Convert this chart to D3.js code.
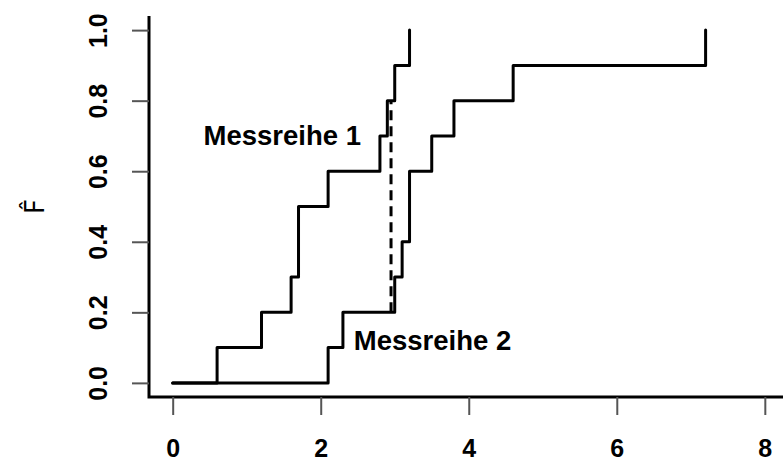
<!DOCTYPE html>
<meta charset="utf-8">
<script src="https://d3js.org/d3.v7.min.js"></script>
<style>
  body { margin: 0; background: #fff; }
  text { font-family: "Liberation Sans", Arial, Helvetica, sans-serif; }
</style>
<div id="chart"></div>
<script>

var messreihe1 = [0.6, 1.2, 1.6, 1.7, 1.7, 2.1, 2.8, 2.9, 3.0, 3.2]
var messreihe2 = [2.1, 2.3, 3.0, 3.1, 3.2, 3.2, 3.5, 3.8, 4.6, 7.2]
var seriesNames = ["Messreihe 1", "Messreihe 2"]
var xTicks = [0, 2, 4, 6, 8]
var yTicks = [0, 0.2, 0.4, 0.6, 0.8, 1.0]
// largest gap between the two ECDFs (Kolmogorov-Smirnov distance)
var ksX = [2.95]
var ksY = [0.2, 0.8]
// label anchors in data units
var labelX = [1.48, 3.51]
var labelY = [0.70, 0.12]

var width = 783, height = 463

var svg = d3.select("#chart").append("svg")
  .attr("width", width)
  .attr("height", height)

// R style: 4% padding around xlim = c(0, 8), ylim = c(0, 1)
var x = d3.scaleLinear().domain([-0.32, 8.32]).range([149, 788.5])
var y = d3.scaleLinear().domain([-0.04, 1.04]).range([397, 16])

// ecdf -> list of step points starting at (0, 0)
function ecdfPoints(values) {
  var v = values.slice().sort(d3.ascending)
  var pts = [[0, 0]]
  v.forEach(function(d, i) { pts.push([d, (i + 1) / v.length]) })
  return pts
}

var step = d3.line()
  .x(function(d) { return x(d[0]) })
  .y(function(d) { return y(d[1]) })
  .curve(d3.curveStepAfter)

svg.selectAll("path.ecdf")
  .data([messreihe1, messreihe2])
  .enter().append("path")
    .attr("class", "ecdf")
    .attr("d", function(d) { return step(ecdfPoints(d)) })
    .attr("fill", "none")
    .attr("stroke", "#000")
    .attr("stroke-width", 3)
    .attr("stroke-linejoin", "round")
    .attr("stroke-linecap", "round")

// dashed vertical for the max distance
svg.append("line")
  .attr("x1", x(ksX[0])).attr("x2", x(ksX[0]))
  .attr("y1", y(ksY[0])).attr("y2", y(ksY[1]))
  .attr("stroke", "#000")
  .attr("stroke-width", 3)
  .attr("stroke-dasharray", "10,6")

// L-shaped box
svg.append("path")
  .attr("d", "M" + x.range()[0] + "," + y.range()[1] + "V" + y.range()[0] + "H" + x.range()[1])
  .attr("fill", "none")
  .attr("stroke", "#000")
  .attr("stroke-width", 3)

// x axis
var xAxis = svg.append("g")
  .attr("transform", "translate(0," + y.range()[0] + ")")
  .call(d3.axisBottom(x).tickValues(xTicks).tickSize(18).tickPadding(24).tickFormat(d3.format("d")))
xAxis.select(".domain").remove()
xAxis.selectAll(".tick line").attr("stroke", "#555").attr("stroke-width", 2)
xAxis.selectAll(".tick text")
  .attr("fill", "#000")
  .style("font-size", "25px")
  .style("font-weight", "bold")
  .style("font-family", "'Liberation Sans', Arial, sans-serif")

// y axis with rotated labels
var yAxis = svg.append("g")
  .attr("transform", "translate(" + x.range()[0] + ",0)")
  .call(d3.axisLeft(y).tickValues(yTicks).tickSize(17).tickFormat(d3.format(".1f")))
yAxis.select(".domain").remove()
yAxis.selectAll(".tick line").attr("stroke", "#555").attr("stroke-width", 2)
yAxis.selectAll(".tick text")
  .attr("x", null).attr("dy", null)
  .attr("text-anchor", "middle")
  .attr("dominant-baseline", "central")
  .attr("transform", "translate(-51,0) rotate(-90)")
  .attr("fill", "#000")
  .style("font-size", "25px")
  .style("font-weight", "bold")
  .style("font-family", "'Liberation Sans', Arial, sans-serif")

// y label: F hat
svg.append("text")
  .attr("transform", "translate(44," + ((y.range()[0] + y.range()[1]) / 2) + ") rotate(-90)")
  .attr("text-anchor", "middle")
  .style("font-size", "26px")
  .style("font-family", "'DejaVu Sans', sans-serif")
  .text("F\u0302")

// series labels
svg.selectAll("text.lab")
  .data(seriesNames)
  .enter().append("text")
    .attr("class", "lab")
    .attr("x", function(d, i) { return x(labelX[i]) })
    .attr("y", function(d, i) { return y(labelY[i]) })
    .attr("text-anchor", "middle")
    .attr("dominant-baseline", "central")
    .style("font-size", "27.5px")
    .style("font-weight", "bold")
    .text(function(d) { return d })

</script>
